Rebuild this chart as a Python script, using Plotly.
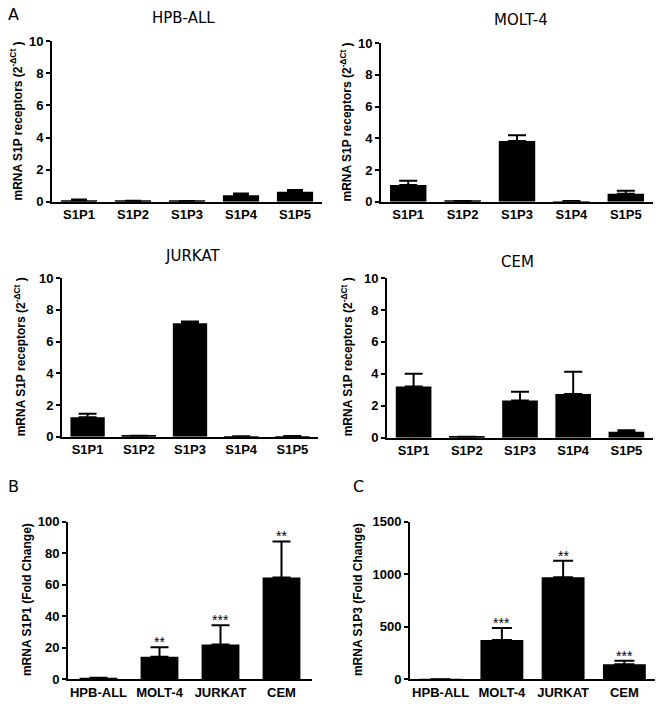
import plotly.graph_objects as go

# ---------------- data ----------------
receptors = ["S1P1", "S1P2", "S1P3", "S1P4", "S1P5"]

hpb_vals = [0.10, 0.05, 0.04, 0.40, 0.62]
hpb_errs = [0.04, 0.01, 0.01, 0.12, 0.12]

molt_vals = [1.05, 0.04, 3.84, 0.03, 0.51]
molt_errs = [0.28, 0.01, 0.35, 0.01, 0.18]

jurkat_vals = [1.23, 0.05, 7.16, 0.02, 0.03]
jurkat_errs = [0.21, 0.01, 0.10, 0.01, 0.01]

cem_vals = [3.20, 0.05, 2.32, 2.73, 0.37]
cem_errs = [0.80, 0.01, 0.55, 1.40, 0.10]

cell_lines = ["HPB-ALL", "MOLT-4", "JURKAT", "CEM"]

s1p1_fold = [1.0, 14.3, 22.2, 64.7]
s1p1_fold_err = [0.0, 6.0, 12.2, 22.8]
s1p1_sig = ["", "**", "***", "**"]

s1p3_fold = [1.0, 375, 973, 143]
s1p3_fold_err = [0.0, 115, 155, 34]
s1p3_sig = ["", "***", "**", "***"]

panel_titles = ["HPB-ALL", "MOLT-4", "JURKAT", "CEM"]
panel_letters = ["A", "B", "C"]

ytitle_a = "mRNA S1P receptors (2<sup>-ΔCt</sup> )"
ytitle_b = "mRNA S1P1 (Fold Change)"
ytitle_c = "mRNA S1P3 (Fold Change)"

# ---------------- layout helpers ----------------
W, H = 656, 704


def px(x):
    return x / W


def py(y):
    return 1 - y / H


# pixel boxes: (left, right, top, bottom)
boxes = [
    (52, 322, 35, 199),
    (381, 653, 37, 199),
    (62, 318, 277, 439),
    (387, 653, 277, 440),
    (68, 312, 526, 687),
    (410, 655, 526, 687),
]

TICKFONT = dict(family="Liberation Sans, Arial", size=13, color="black", weight="bold")
TITLEFONT = dict(family="DejaVu Sans, Verdana", size=15, color="black")

fig = go.Figure()

series = [
    (receptors, hpb_vals, hpb_errs, 0.67, 8),
    (receptors, molt_vals, molt_errs, 0.67, 9),
    (receptors, jurkat_vals, jurkat_errs, 0.67, 9),
    (receptors, cem_vals, cem_errs, 0.67, 9),
    (cell_lines, s1p1_fold, s1p1_fold_err, 0.62, 9),
    (cell_lines, s1p3_fold, s1p3_fold_err, 0.70, 10),
]

for i, (cats, vals, errs, bw, cw) in enumerate(series):
    n = i + 1
    xa = "x" if n == 1 else f"x{n}"
    ya = "y" if n == 1 else f"y{n}"
    fig.add_trace(go.Bar(
        x=cats, y=vals, xaxis=xa, yaxis=ya, width=bw,
        marker=dict(color="black", line=dict(color="black", width=0)),
        error_y=dict(type="data", array=errs, arrayminus=[0] * len(errs),
                     symmetric=False, color="black", thickness=2, width=cw),
        showlegend=False,
    ))

yranges = [[0, 10]] * 4 + [[0, 100], [0, 1500]]
ydticks = [2] * 4 + [20, 500]

layout = dict(
    width=W, height=H,
    margin=dict(l=0, r=0, t=0, b=0),
    paper_bgcolor="white", plot_bgcolor="white",
    bargap=0.3,
)
for i, (l, r, t, b) in enumerate(boxes):
    n = i + 1
    xk = "xaxis" if n == 1 else f"xaxis{n}"
    yk = "yaxis" if n == 1 else f"yaxis{n}"
    layout[xk] = dict(
        domain=[px(l), px(r)], anchor="y" if n == 1 else f"y{n}",
        showline=True, linecolor="black", linewidth=2, ticks="",
        showgrid=False, zeroline=False, tickfont=TICKFONT,
        type="category", range=[-0.5, len(series[i][0]) - 0.5],
        fixedrange=True,
    )
    layout[yk] = dict(
        domain=[py(b), py(t)], anchor="x" if n == 1 else f"x{n}",
        showline=True, linecolor="black", linewidth=2,
        ticks="outside", ticklen=4, tickwidth=2, tickcolor="black",
        showgrid=False, zeroline=False, tickfont=TICKFONT,
        range=yranges[i], dtick=ydticks[i], tick0=0,
        fixedrange=True,
    )

fig.update_layout(**layout)

annotations = []
# panel titles
title_pos = [(183, 11), (521, 13), (192, 254), (517, 261)]
for txt, (x, y) in zip(panel_titles, title_pos):
    annotations.append(dict(text=txt, x=px(x), y=py(y), xref="paper", yref="paper",
                            xanchor="center", yanchor="middle", showarrow=False,
                            font=TITLEFONT))
# panel letters
letter_pos = [(13, 8), (13, 490), (358, 490)]
for txt, (x, y) in zip(panel_letters, letter_pos):
    annotations.append(dict(text=txt, x=px(x), y=py(y), xref="paper", yref="paper",
                            xanchor="center", yanchor="middle", showarrow=False,
                            font=dict(family="DejaVu Sans, Verdana", size=16, color="black")))
# y-axis titles
yt_font = dict(family="Liberation Sans, Arial", size=12, color="black", weight="bold")
yt_specs = [
    (ytitle_a, 16, 117),
    (ytitle_a, 346, 118),
    (ytitle_a, 20, 358),
    (ytitle_a, 347, 358),
    (ytitle_b, 27, 606),
    (ytitle_c, 358, 606),
]
for txt, x, y in yt_specs:
    annotations.append(dict(text=txt, x=px(x), y=py(y), xref="paper", yref="paper",
                            xanchor="center", yanchor="middle", showarrow=False,
                            textangle=-90, font=yt_font))
# significance stars
for n, cats, vals, errs, sig in [(5, cell_lines, s1p1_fold, s1p1_fold_err, s1p1_sig),
                                  (6, cell_lines, s1p3_fold, s1p3_fold_err, s1p3_sig)]:
    for c, v, e, s in zip(cats, vals, errs, sig):
        if not s:
            continue
        annotations.append(dict(text=s, x=c, y=v + e, xref=f"x{n}", yref=f"y{n}",
                                xanchor="center", yanchor="bottom", yshift=-5,
                                showarrow=False,
                                font=dict(family="Liberation Sans, Arial", size=14, color="black")))

fig.update_layout(annotations=annotations)
fig.write_html("out.html", config={"displayModeBar": False},
               post_script="document.body.style.margin='0px';")
